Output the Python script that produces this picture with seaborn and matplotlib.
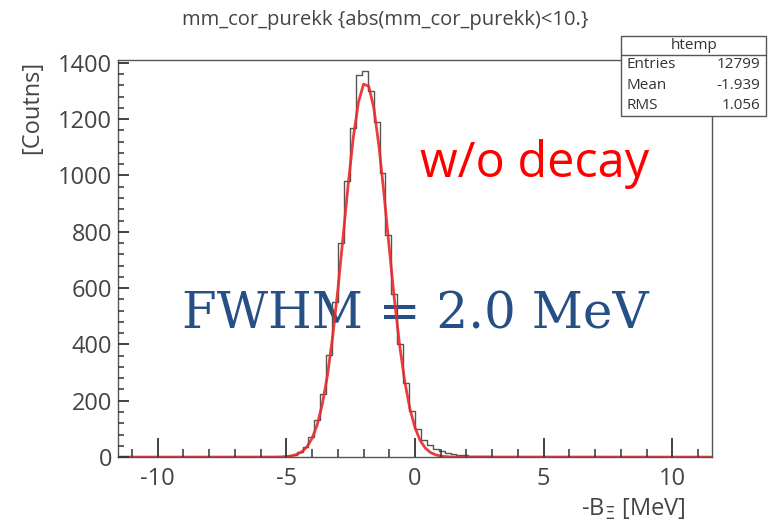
import numpy as np
import pandas as pd
import matplotlib
matplotlib.use("Agg")
import matplotlib.pyplot as plt
from matplotlib.patches import Rectangle
from matplotlib.lines import Line2D
from matplotlib.ticker import MultipleLocator
import seaborn as sns

# histogram binning (ROOT htemp): 100 bins between -11.5 and 11.5
hist_lo, hist_hi, n_bins = -11.5, 11.5, 100
first_bin = 25  # index of first non-empty bin
counts_nonzero = [1, 1, 2, 4, 8, 17, 35, 70, 130, 225,
                  362, 550, 760, 980, 1170, 1355, 1372, 1300, 1190, 1010,
                  790, 580, 400, 262, 165, 100, 62, 42, 30, 20,
                  14, 10, 8, 6, 5, 4, 3, 3, 2, 1, 1]

# gaussian fit curve
fit_x = [-11.5, -5.6, -5.4, -5.2, -5.0, -4.8, -4.6, -4.4, -4.2, -4.0, -3.8, -3.6,
         -3.4, -3.2, -3.0, -2.8, -2.6, -2.4, -2.2, -2.0, -1.8, -1.6, -1.4,
         -1.2, -1.0, -0.8, -0.6, -0.4, -0.2, 0.0, 0.2, 0.4, 0.6, 0.8, 1.0,
         1.2, 1.4, 1.6, 11.5]
fit_y = [0, 0.1, 0.3, 0.8, 1.9, 4.3, 9.2, 18.9, 36.5, 66.6, 115, 189,
         292, 428, 593, 778, 966, 1134, 1260, 1324, 1317, 1239, 1103,
         929, 740, 558, 398, 269, 172, 104, 59, 32, 16.4, 8, 3.6,
         1.6, 0.6, 0.2, 0]

stat_names = ["Entries", "Mean", "RMS"]
stat_values = ["12799", "-1.939", "1.056"]

edges = np.linspace(hist_lo, hist_hi, n_bins + 1)
centers = 0.5 * (edges[:-1] + edges[1:])
counts = np.zeros(n_bins)
counts[first_bin:first_bin + len(counts_nonzero)] = counts_nonzero
hist_df = pd.DataFrame({"x": centers, "w": counts})
fit_df = pd.DataFrame({"x": fit_x, "y": fit_y})

sns.set_style("ticks")
plt.rcParams["font.family"] = ["Open Sans", "DejaVu Sans"]
plt.rcParams["axes.unicode_minus"] = False
# ROOT style ticks: inside, with minor ticks, only bottom/left
plt.rcParams.update({
    "xtick.direction": "in", "ytick.direction": "in",
    "xtick.major.size": 14, "xtick.minor.size": 6,
    "ytick.major.size": 8, "ytick.minor.size": 4,
    "xtick.major.width": 1.3, "xtick.minor.width": 1.1,
    "ytick.major.width": 1.3, "ytick.minor.width": 1.1,
    "xtick.minor.visible": True, "ytick.minor.visible": True,
    "xtick.top": False, "ytick.right": False,
    "xtick.bottom": True, "ytick.left": True,
    "xtick.color": "#333333", "ytick.color": "#333333",
    "xtick.labelcolor": "#444444", "ytick.labelcolor": "#444444",
    "xtick.labelsize": 17, "ytick.labelsize": 17,
    "xtick.major.pad": 7, "ytick.major.pad": 4,
    "axes.axisbelow": False,
})

fig = plt.figure(figsize=(7.7, 5.26), dpi=100)
ax = fig.add_axes([0.153, 0.131, 0.772, 0.755])

sns.histplot(data=hist_df, x="x", weights="w", bins=n_bins,
             binrange=(hist_lo, hist_hi), element="step",
             fill=False, color="#555555", linewidth=1.0, ax=ax)
sns.lineplot(data=fit_df, x="x", y="y", color="#e8282a", linewidth=2.0,
             alpha=0.9, ax=ax)

ax.set_xlim(-11.55, 11.55)
ax.set_ylim(0, 1410)
ax.xaxis.set_major_locator(MultipleLocator(5))
ax.xaxis.set_minor_locator(MultipleLocator(1))
ax.yaxis.set_major_locator(MultipleLocator(200))
ax.yaxis.set_minor_locator(MultipleLocator(40))
ax.set_xlabel("")
ax.set_ylabel("")
for s in ax.spines.values():
    s.set_color("#555555")
    s.set_linewidth(1.0)

ax.text(4.65, 1040, "w/o decay", color="#ff0000", fontsize=35,
        ha="center", va="center", zorder=1)
ax.text(0.0, 505, "FWHM = 2.0 MeV", color="#264f85", fontsize=36,
        ha="center", va="center", family=["DejaVu Serif"], zorder=1)

fig.text(0.89, 0.008, r"-B$_{\Xi}$ [MeV]", ha="right", va="bottom",
         fontsize=17, color="#444444")
fig.text(0.042, 0.885, "[Coutns]", rotation=90, ha="center", va="top",
         fontsize=17, color="#444444")
fig.text(0.5, 0.962, "mm_cor_purekk {abs(mm_cor_purekk)<10.}", ha="center",
         va="center", fontsize=14.5, color="#444444")

# ROOT style stat box
bx0, bx1, by0, by1, byh = 0.807, 0.995, 0.779, 0.932, 0.896
fig.add_artist(Rectangle((bx0, by0), bx1 - bx0, by1 - by0,
                         transform=fig.transFigure, facecolor="white",
                         edgecolor="#555555", linewidth=1.0, zorder=5))
fig.add_artist(Line2D([bx0, bx1], [byh, byh], transform=fig.transFigure,
                      color="#555555", linewidth=1.0, zorder=6))
fig.text((bx0 + bx1) / 2, (byh + by1) / 2, "htemp", ha="center",
         va="center", fontsize=11, color="#333333", zorder=7)
row_h = (byh - by0) / 3
for k, (nm, val) in enumerate(zip(stat_names, stat_values)):
    yy = byh - row_h * (k + 0.5)
    fig.text(bx0 + 0.006, yy, nm, ha="left", va="center", fontsize=11,
             color="#333333", zorder=7)
    fig.text(bx1 - 0.008, yy, val, ha="right", va="center", fontsize=11,
             color="#333333", zorder=7)

fig.savefig("out.png", dpi=100)
